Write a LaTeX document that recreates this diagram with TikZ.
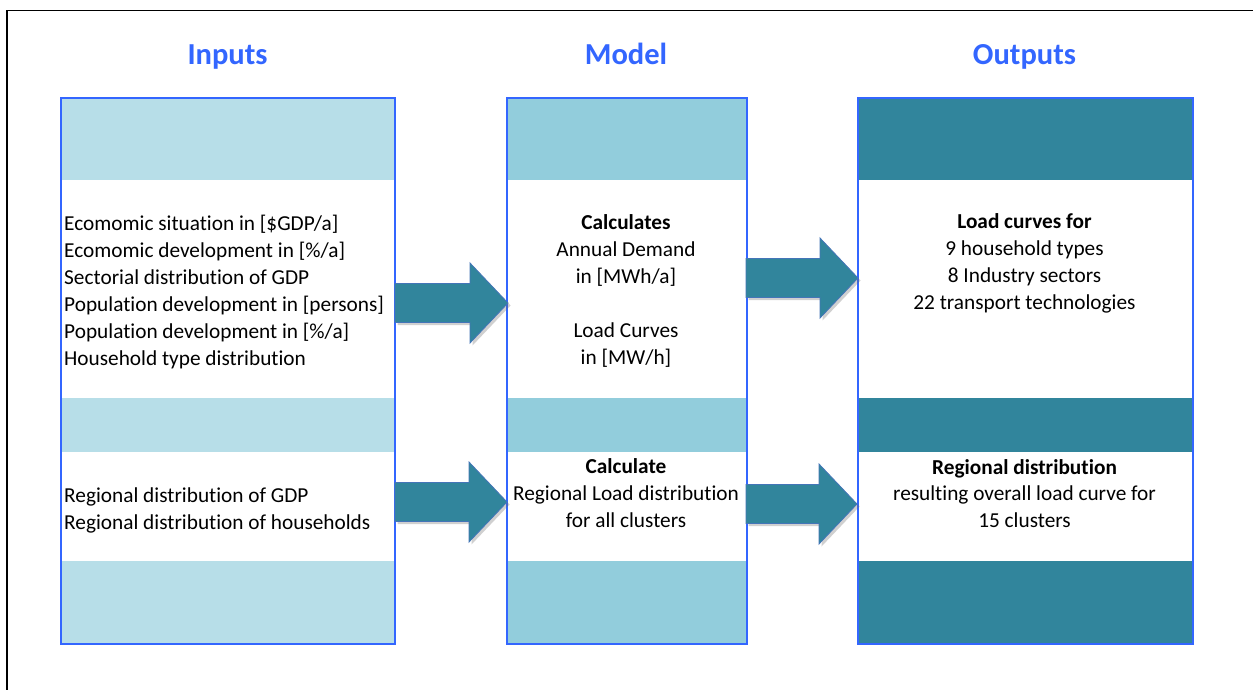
\documentclass[tikz,border=0pt]{standalone}
\usepackage{fontspec}
\setmainfont{Carlito}[Ligatures=NoCommon]
\usetikzlibrary{calc,shadows}
\definecolor{bandA}{HTML}{B7DEE8}
\definecolor{bandB}{HTML}{92CDDC}
\definecolor{bandC}{HTML}{31859C}
\definecolor{boxline}{HTML}{3366FF}
\definecolor{titleblue}{HTML}{3366FF}
\definecolor{arrowfill}{HTML}{31859C}
\definecolor{arrowline}{HTML}{4475B8}
\tikzset{
  txt/.style={inner sep=0pt, font=\fontsize{21.3}{26.8}\selectfont},
  ttl/.style={inner sep=0pt, text=titleblue, font=\fontsize{30.5}{36}\selectfont\bfseries},
  boxframe/.style={draw=boxline, line width=2pt, inner sep=0pt, anchor=north west},
  blk/.style={fill=arrowfill, draw=arrowline, line width=0.8pt,
    drop shadow={shadow xshift=2.5pt, shadow yshift=-2.5pt, opacity=0.3, fill=black!60}},
}
\newcommand\colbands[3]{%
  \fill[#3] (#1,97) rectangle (#2,180);
  \fill[#3] (#1,398) rectangle (#2,452);
  \fill[#3] (#1,561) rectangle (#2,643);}
\newcommand\blkarrow[2]{%
  \path[blk] let \p1=(#1), \p2=(#2) in
    (\x1,\y1+19.5pt) -- (\x2-38pt,\y1+19.5pt) -- (\x2-38pt,\y1+40pt) -- (\x2,\y1)
    -- (\x2-38pt,\y1-40pt) -- (\x2-38pt,\y1-19.5pt) -- (\x1,\y1-19.5pt) -- cycle;}
\begin{document}
\begin{tikzpicture}[x=1pt,y=-1pt]
\useasboundingbox (0,0) rectangle (1253,690);
\fill[white] (0,0) rectangle (1253,690);
% outer frame
\draw[line width=1.5pt] (7,690) -- (7,10.5) -- (1253,10.5);
% titles
\node[ttl, anchor=base] (tin) at (227.5,65) {Inputs};
\node[ttl, anchor=base] (tmo) at (626,65) {Model};
\node[ttl, anchor=base] (tou) at (1024.5,65) {Outputs};
% boxes
\colbands{60}{395}{bandA}
\colbands{506}{746}{bandB}
\colbands{857}{1192}{bandC}
\node[boxframe, minimum width=334pt, minimum height=546pt] (inp) at (60,97) {};
\node[boxframe, minimum width=240pt, minimum height=546pt] (mod) at (506,97) {};
\node[boxframe, minimum width=335pt, minimum height=546pt] (out) at (857,97) {};
% inputs text
\node[txt, anchor=base west] (i1) at (64,230) {Ecomomic situation in [\$GDP/a]};
\node[txt, anchor=base west] (i2) at (64,257) {Ecomomic development in [\%/a]};
\node[txt, anchor=base west] (i3) at (64,284) {Sectorial distribution of GDP};
\node[txt, anchor=base west] (i4) at (64,311) {Population development in [persons]};
\node[txt, anchor=base west] (i5) at (64,338) {Population development in [\%/a]};
\node[txt, anchor=base west] (i6) at (64,365) {Household type distribution};
\node[txt, anchor=base west] (i7) at (64,502.5) {Regional distribution of GDP};
\node[txt, anchor=base west] (i8) at (64,529.3) {Regional distribution of households};
% model text
\node[txt, anchor=base] (m1) at (626,229.5) {\bfseries Calculates};
\node[txt, anchor=base] (m2) at (626,256.5) {Annual Demand};
\node[txt, anchor=base] (m3) at (626,283.5) {in [MWh/a]};
\node[txt, anchor=base] (m4) at (626,337.5) {Load Curves};
\node[txt, anchor=base] (m5) at (626,364.5) {in [MW/h]};
\node[txt, anchor=base] (m6) at (626,473.3) {\bfseries Calculate};
\node[txt, anchor=base] (m7) at (626,500.2) {Regional Load distribution};
\node[txt, anchor=base] (m8) at (626,527.1) {for all clusters};
% outputs text
\node[txt, anchor=base] (o1) at (1024.5,228.5) {\bfseries Load curves for};
\node[txt, anchor=base] (o2) at (1024.5,255.4) {9 household types};
\node[txt, anchor=base] (o3) at (1024.5,282.2) {8 Industry sectors};
\node[txt, anchor=base] (o4) at (1024.5,309) {22 transport technologies};
\node[txt, anchor=base] (o5) at (1024.5,474) {\bfseries Regional distribution};
\node[txt, anchor=base] (o6) at (1024.5,500.9) {resulting overall load curve for};
\node[txt, anchor=base] (o7) at (1024.5,527.7) {15 clusters};
% arrow end points
\coordinate (a1s) at (395,303);  \coordinate (a1e) at (508,303);
\coordinate (a2s) at (746,278);  \coordinate (a2e) at (858,278);
\coordinate (a3s) at (395,502);  \coordinate (a3e) at (507,502);
\coordinate (a4s) at (746,504);  \coordinate (a4e) at (857,504);
\blkarrow{a1s}{a1e}
\blkarrow{a2s}{a2e}
\blkarrow{a3s}{a3e}
\blkarrow{a4s}{a4e}
\end{tikzpicture}
\end{document}
